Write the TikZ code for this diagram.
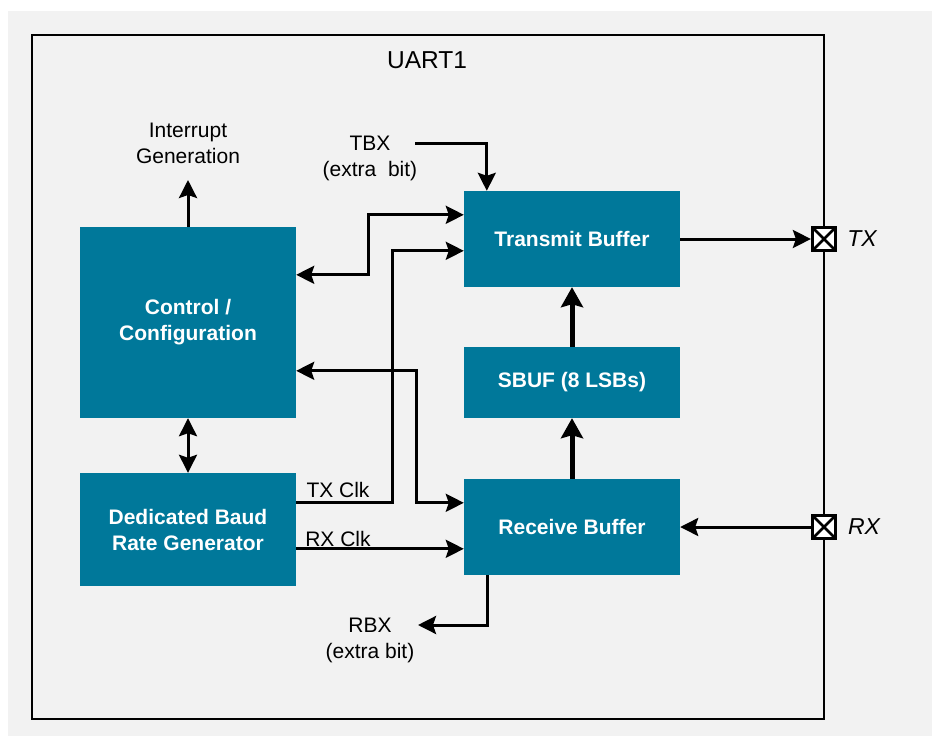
\documentclass[tikz,border=0pt]{standalone}
\usepackage{fontspec}
\setmainfont{Liberation Sans}
\usetikzlibrary{arrows.meta,calc}
\definecolor{tealblk}{HTML}{00789A}
\definecolor{bggray}{HTML}{F2F2F2}
\begin{document}
\begin{tikzpicture}[x=1pt,y=-1pt,
  blk/.style={fill=tealblk, draw=none, text=white, font=\bfseries\fontsize{21}{26}\selectfont, align=center, inner sep=0pt, minimum width=216pt},
  lbl/.style={font=\fontsize{21}{26}\selectfont, align=center, inner sep=0pt},
  portlbl/.style={font=\itshape\fontsize{23}{26}\selectfont, inner sep=0pt},
  conn/.style={line width=3pt, -{Stealth[length=18pt,width=18pt,inset=3pt]}},
  dconn/.style={line width=3pt, {Stealth[length=18pt,width=18pt,inset=3pt]}-{Stealth[length=18pt,width=18pt,inset=3pt]}},
  fatconn/.style={line width=5pt, -{Stealth[length=20pt,width=22pt,inset=3pt]}},
  portbox/.style={draw, line width=3.2pt, fill=white, minimum size=23pt, inner sep=0pt,
    path picture={\draw[line width=2.6pt] (path picture bounding box.north west) -- (path picture bounding box.south east)
      (path picture bounding box.north east) -- (path picture bounding box.south west);}}
]
\useasboundingbox (0,0) rectangle (932,736);
\fill[white] (0,0) rectangle (932,736);
\fill[bggray] (8,11) rectangle (932,736);
\draw[line width=2.5pt] (32,35) rectangle (824,719);

\node[font=\fontsize{24.5}{28}\selectfont, inner sep=0pt] (title) at (427,60) {UART1};

\node[blk, minimum height=191pt] (ctrl) at (188,322.5) {Control /\\Configuration};
\node[blk, minimum height=113pt] (baud) at (188,529.5) {Dedicated Baud\\Rate Generator};
\node[blk, minimum height=96pt] (tx) at (572,239) {Transmit Buffer};
\node[blk, minimum height=71pt] (sbuf) at (572,382.5) {SBUF (8 LSBs)};
\node[blk, minimum height=96pt] (rx) at (572,527) {Receive Buffer};

\node[portbox] (txp) at (824,239) {};
\node[portbox] (rxp) at (824,527) {};
\node[portlbl] (txl) at (862,239) {TX};
\node[portlbl] (rxl) at (864,527) {RX};

\node[lbl] (intr) at (188,143) {Interrupt\\Generation};
\node[lbl] (tbx) at (370,158) {TBX\\(extra~ bit)};
\node[lbl] (rbx) at (370,640) {RBX\\(extra bit)};
\node[lbl] (txclk) at (338,490) {TX Clk};
\node[lbl] (rxclk) at (338,539) {RX Clk};

\coordinate (intend) at (188,180);
\coordinate (tbxstart) at (415,143);
\coordinate (rbxend) at (418,625);

\draw[conn] (ctrl.north) -- (intend);
\draw[conn] (tbxstart) -| ([xshift=23pt]tx.north west);
\draw[dconn] ([yshift=-48pt]ctrl.north east) -- ++(72,0) |- ([yshift=-24pt]tx.north west);
\draw[conn] ([yshift=-30pt]baud.north east) -- ++(96,0) |- ([yshift=-60pt]tx.north west);
\draw[dconn] ([yshift=-144pt]ctrl.north east) -| ++(120,132) -- ([yshift=-24pt]rx.north west);
\coordinate (rxclks) at ([yshift=-76pt]baud.north east);
\draw[conn] (rxclks) -- (rxclks -| rx.west);
\draw[dconn] (ctrl.south) -- (baud.north);
\draw[fatconn] (sbuf.north) -- (tx.south);
\draw[fatconn] (rx.north) -- (sbuf.south);
\draw[conn] (tx.east) -- (txp.west);
\draw[conn] (rxp.west) -- (rx.east);
\draw[conn] ([xshift=24pt]rx.south west) |- (rbxend);
\end{tikzpicture}
\end{document}
